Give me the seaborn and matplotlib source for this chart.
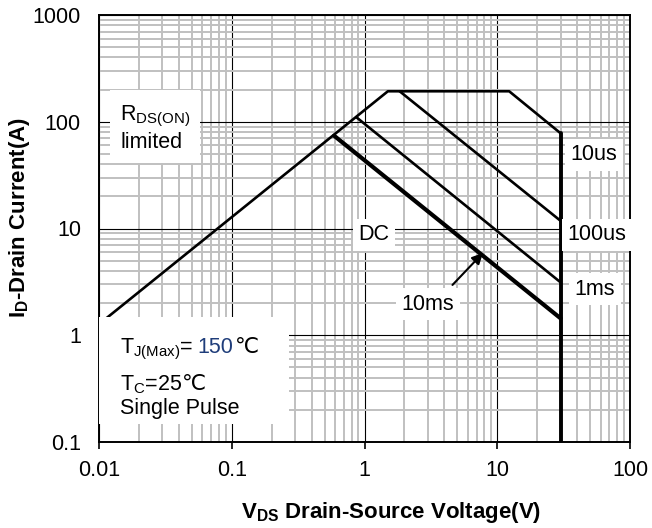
import matplotlib
matplotlib.use("Agg")
import matplotlib.pyplot as plt
import matplotlib.patches as mpatches
from matplotlib.ticker import NullFormatter
import seaborn as sns

# axis ticks
x_ticks = [0.01, 0.1, 1, 10, 100]
x_tick_labels = ["0.01", "0.1", "1", "10", "100"]
y_ticks = [0.1, 1, 10, 100, 1000]
y_tick_labels = ["0.1", "1", "10", "100", "1000"]

# outer SOA boundary: Rds(on) limit -> current limit -> power limit
env_v = [0.01, 1.5, 12.3, 30]
env_i = [1.27, 193, 193, 78]
# BVdss limit
bv_v = [30, 30]
bv_i = [78, 0.1]
# pulse lines
p100us_v = [1.84, 30]
p100us_i = [193, 11.8]
p1ms_v = [0.87, 30]
p1ms_i = [110, 3.13]
p10ms_v = [0.59, 30]
p10ms_i = [74, 1.44]

# labels placed in data coords
pulse_labels = ["10us", "100us", "1ms", "DC", "10ms"]
pulse_label_v = [53.6, 56.4, 54.5, 1.18, 3.0]
pulse_label_i = [48.9, 8.7, 2.71, 8.7, 1.96]
arrow_tail = (4.6, 2.96)
arrow_head = (7.8, 5.9)

sns.set_style("white")
plt.rcParams["font.family"] = ["Liberation Sans", "DejaVu Sans"]
plt.rcParams["mathtext.fontset"] = "custom"
plt.rcParams["mathtext.rm"] = "Liberation Sans"
plt.rcParams["mathtext.it"] = "Liberation Sans:italic"
plt.rcParams["mathtext.bf"] = "Liberation Sans:bold"

FS = 15.5

fig = plt.figure(figsize=(6.52, 5.28), dpi=100)
ax = fig.add_axes([99 / 652, 86 / 528, 531 / 652, 427 / 528])

sns.lineplot(x=env_v, y=env_i, ax=ax, color="black", lw=1.9, sort=False, estimator=None)
sns.lineplot(x=bv_v, y=bv_i, ax=ax, color="black", lw=2.8, sort=False, estimator=None)
sns.lineplot(x=p100us_v, y=p100us_i, ax=ax, color="black", lw=1.9, sort=False, estimator=None)
sns.lineplot(x=p1ms_v, y=p1ms_i, ax=ax, color="black", lw=1.9, sort=False, estimator=None)
sns.lineplot(x=p10ms_v, y=p10ms_i, ax=ax, color="black", lw=3.0, sort=False, estimator=None)

ax.set_xscale("log")
ax.set_yscale("log")
ax.set_xlim(0.01, 100)
ax.set_ylim(0.1, 1000)

ax.set_xticks(x_ticks, x_tick_labels)
ax.set_yticks(y_ticks, y_tick_labels)
ax.xaxis.set_minor_formatter(NullFormatter())
ax.yaxis.set_minor_formatter(NullFormatter())

ax.grid(which="minor", color="#c0c0c0", lw=1.4)
ax.grid(which="major", color="black", lw=0.8)
ax.set_axisbelow(True)

ax.tick_params(axis="x", which="major", bottom=True, direction="out", length=5,
               width=1.2, pad=8, labelsize=FS, colors="black")
ax.tick_params(axis="y", which="major", left=False, length=0, pad=13,
               labelsize=FS, colors="black")
ax.tick_params(which="minor", length=0)
for sp in ax.spines.values():
    sp.set_color("black")
    sp.set_linewidth(1.4)

ax.set_xlabel(r"V$_{\mathbf{DS}}$ Drain-Source Voltage(V)", fontsize=16,
              fontweight="bold", color="black")
ax.set_ylabel(r"I$_{\mathbf{D}}$-Drain Current(A)", fontsize=16,
              fontweight="bold", color="black")
ax.xaxis.set_label_coords(0.551, -0.136)
ax.yaxis.set_label_coords(-0.126, 0.526)

box = dict(fc="white", ec="none", boxstyle="square,pad=0.25")
for lab, v, i in zip(pulse_labels, pulse_label_v, pulse_label_i):
    ax.text(v, i, lab, ha="center", va="center", fontsize=FS, color="black",
            bbox=box, zorder=6)

ax.text(0.0144, 87, "R$_{\\mathrm{DS(ON)}}$\nlimited", ha="left", va="center",
        fontsize=FS, color="black", zorder=6,
        bbox=dict(fc="white", ec="none", boxstyle="square,pad=0.45"))

ax.annotate("", xy=arrow_head, xytext=arrow_tail,
            arrowprops=dict(arrowstyle="-|>", color="black", lw=1.5,
                            mutation_scale=16, shrinkA=0, shrinkB=0), zorder=6)

# white panel behind the conditions text
ax.add_patch(mpatches.Rectangle((0, 0.042), 0.357, 0.251, transform=ax.transAxes,
                                fc="white", ec="none", zorder=4))

renderer = fig.canvas.get_renderer()


def put_pieces(x, y, pieces):
    off = 0.0
    for s, c, gap in pieces:
        off += gap
        t = ax.annotate(s, (x, y), xytext=(off, 0), textcoords="offset points",
                        ha="left", va="baseline", fontsize=FS, color=c, zorder=6)
        off += t.get_window_extent(renderer).width * 72 / fig.dpi


put_pieces(0.0144, 0.682, [("T$_{\\mathrm{J(Max)}}$=", "black", 0),
                           ("150", "#1f3d7a", 2.5),
                           ("\u2103", "black", 1.5)])
put_pieces(0.0144, 0.307, [("T$_{\\mathrm{C}}$=25", "black", 0),
                           ("\u2103", "black", -0.5)])
ax.text(0.0144, 0.183, "Single Pulse", ha="left", va="baseline", fontsize=FS,
        color="black", zorder=6)

fig.savefig("out.png", dpi=100)
